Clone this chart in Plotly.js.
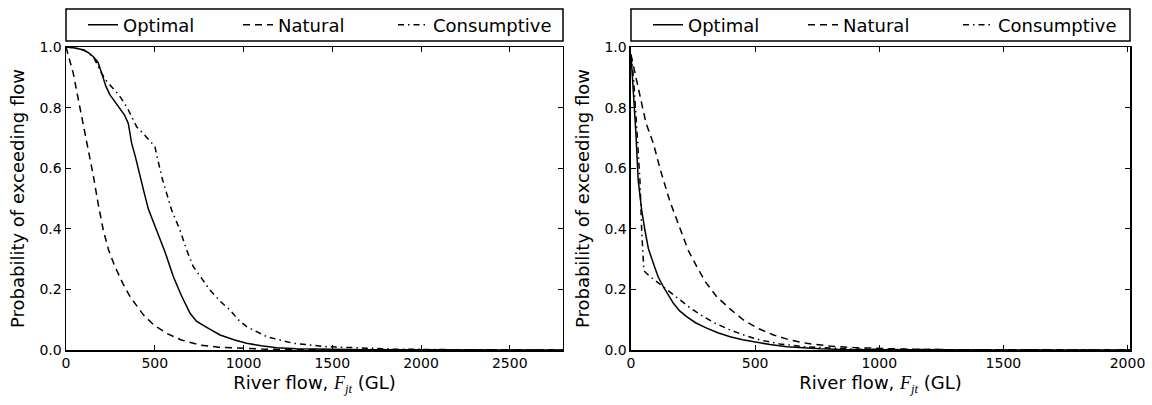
<!DOCTYPE html>
<html><head><meta charset="utf-8">
<script src="https://cdn.plot.ly/plotly-3.0.1.min.js"></script>
<style>html,body{margin:0;padding:0;background:#fff}#chart{width:1152px;height:405px}</style>
</head><body><div id="chart"></div>
<script>
// ---- Left panel data ----
const leftOptimalX = [0, 50, 100, 130, 154, 180, 201, 225, 248, 275, 304, 330, 351, 370, 390, 408, 440, 464, 511, 560, 605, 650, 699, 736, 800, 868, 950, 1018, 1100, 1187, 1300, 1468, 1700, 2000, 2400, 2800];
const leftOptimalP = [1.0, 0.997, 0.99, 0.98, 0.968, 0.95, 0.913, 0.87, 0.842, 0.82, 0.797, 0.775, 0.748, 0.682, 0.64, 0.594, 0.52, 0.465, 0.396, 0.32, 0.242, 0.18, 0.121, 0.094, 0.072, 0.0495, 0.033, 0.022, 0.014, 0.0077, 0.004, 0.002, 0.001, 0.0005, 0.0002, 0];
const leftNaturalX = [0, 20, 41, 60, 79, 100, 117, 135, 154, 182, 210, 240, 276, 320, 361, 400, 436, 500, 567, 650, 755, 860, 982, 1100, 1280, 1600, 2000, 2800];
const leftNaturalP = [1.0, 0.96, 0.913, 0.855, 0.798, 0.74, 0.693, 0.64, 0.575, 0.48, 0.396, 0.33, 0.275, 0.22, 0.176, 0.145, 0.116, 0.08, 0.055, 0.033, 0.0165, 0.009, 0.005, 0.003, 0.001, 0.0005, 0.0002, 0];
const leftConsumptiveX = [0, 50, 100, 154, 201, 225, 248, 300, 342, 370, 398, 450, 501, 511, 540, 567, 595, 642, 680, 717, 760, 811, 870, 924, 970, 1018, 1131, 1281, 1469, 1650, 1845, 2200, 2800];
const leftConsumptiveP = [1.0, 0.997, 0.99, 0.968, 0.913, 0.89, 0.875, 0.84, 0.803, 0.77, 0.737, 0.705, 0.671, 0.644, 0.57, 0.517, 0.462, 0.396, 0.33, 0.275, 0.24, 0.198, 0.16, 0.132, 0.1, 0.077, 0.044, 0.022, 0.011, 0.006, 0.003, 0.001, 0];

// ---- Right panel data ----
const rightOptimalX = [0, 8, 19, 29, 43, 56, 70, 90, 110, 130, 150, 171, 195, 224, 260, 305, 350, 399, 450, 493, 560, 628, 700, 762, 850, 1000, 1200, 1500, 2010];
const rightOptimalP = [0.975, 0.88, 0.726, 0.561, 0.462, 0.396, 0.335, 0.286, 0.24, 0.209, 0.18, 0.154, 0.13, 0.11, 0.09, 0.072, 0.057, 0.044, 0.034, 0.027, 0.018, 0.011, 0.007, 0.004, 0.002, 0.001, 0.0005, 0.0002, 0];
const rightNaturalX = [0, 15, 36, 60, 90, 120, 157, 198, 230, 265, 300, 345, 400, 453, 510, 574, 640, 708, 800, 896, 1000, 1098, 1300, 1600, 2010];
const rightNaturalP = [0.975, 0.92, 0.836, 0.75, 0.682, 0.59, 0.49, 0.396, 0.33, 0.275, 0.225, 0.176, 0.135, 0.099, 0.072, 0.0495, 0.033, 0.022, 0.013, 0.008, 0.005, 0.003, 0.001, 0.0004, 0];
const rightConsumptiveX = [0, 10, 22, 36, 43, 48, 52, 60, 77, 100, 130, 160, 198, 240, 292, 340, 399, 460, 520, 600, 695, 800, 897, 1100, 1400, 2010];
const rightConsumptiveP = [0.975, 0.9, 0.75, 0.561, 0.396, 0.3, 0.262, 0.255, 0.242, 0.228, 0.209, 0.188, 0.165, 0.138, 0.11, 0.088, 0.066, 0.048, 0.033, 0.02, 0.011, 0.006, 0.003, 0.0015, 0.0005, 0];

const seriesNames = ['Optimal', 'Natural', 'Consumptive'];
const leftXTicks = [0, 500, 1000, 1500, 2000, 2500];
const rightXTicks = [0, 500, 1000, 1500, 2000];
const yTicks = [0.0, 0.2, 0.4, 0.6, 0.8, 1.0];

const dashes = ['solid', '7px,5px', '6px,4px,1.5px,4px'];
const entryWidths = [110, 110, 130];
function tr(x, y, i, xa, ya, lg) {
  return {x: x, y: y, type: 'scatter', mode: 'lines', name: seriesNames[i],
    xaxis: xa, yaxis: ya, legend: lg, legendwidth: entryWidths[i],
    line: {color: '#000', width: 1.5, dash: dashes[i]}, hoverinfo: 'skip'};
}
const data = [
  tr(leftOptimalX, leftOptimalP, 0, 'x', 'y', 'legend'),
  tr(leftNaturalX, leftNaturalP, 1, 'x', 'y', 'legend'),
  tr(leftConsumptiveX, leftConsumptiveP, 2, 'x', 'y', 'legend'),
  tr(rightOptimalX, rightOptimalP, 0, 'x2', 'y2', 'legend2'),
  tr(rightNaturalX, rightNaturalP, 1, 'x2', 'y2', 'legend2'),
  tr(rightConsumptiveX, rightConsumptiveP, 2, 'x2', 'y2', 'legend2')
];

const FONT = 'DejaVu Sans, sans-serif';
const serif = 'font-family:\'Liberation Serif\',serif';
const xTitle = 'River flow, <i><span style="' + serif + '">F</span></i><sub><i><span style="' + serif + '">jt</span></i></sub> (GL)';
const axisCommon = {
  showgrid: false, zeroline: false, showline: true, linecolor: '#000', linewidth: 1.5,
  mirror: 'allticks', ticks: 'inside', ticklen: 5, tickwidth: 1, tickcolor: '#000',
  tickfont: {size: 14, color: '#000'}
};
const xAxisBase = Object.assign({}, axisCommon, {title: {text: xTitle, font: {size: 18, color: '#000'}, standoff: 6}});
const yAxisBase = Object.assign({}, axisCommon, {range: [0, 1], tickvals: yTicks, tickformat: '.1f',
  title: {text: 'Probability of exceeding flow', font: {size: 18, color: '#000'}, standoff: 10}});
const legendBase = {orientation: 'h', xref: 'paper', yref: 'paper', xanchor: 'left', yanchor: 'middle', y: 1.0726,
  borderwidth: 0, bgcolor: 'rgba(0,0,0,0)', entrywidth: 110, itemwidth: 30,
  font: {size: 18, color: '#000'}};

// legend frames (paper coordinates)
const legTop = 1.1254, legBottom = 1.0198;
const leftDomain = [0, 0.4671], rightDomain = [0.531, 1];

const layout = {
  width: 1152, height: 405,
  margin: {l: 66, r: 22, t: 47, b: 55, autoexpand: false},
  paper_bgcolor: '#fff', plot_bgcolor: '#fff',
  font: {family: FONT, color: '#000'},
  xaxis: Object.assign({}, xAxisBase, {domain: leftDomain, range: [0, 2800], tickvals: leftXTicks, anchor: 'y'}),
  yaxis: Object.assign({}, yAxisBase, {domain: [0, 1], anchor: 'x'}),
  xaxis2: Object.assign({}, xAxisBase, {domain: rightDomain, range: [0, 2010], tickvals: rightXTicks, anchor: 'y2'}),
  yaxis2: Object.assign({}, yAxisBase, {domain: [0, 1], anchor: 'x2'}),
  legend: Object.assign({}, legendBase, {x: leftDomain[0] + 0.016}),
  legend2: Object.assign({}, legendBase, {x: rightDomain[0] + 0.016}),
  shapes: [
    {type: 'rect', xref: 'paper', yref: 'paper', x0: leftDomain[0], x1: leftDomain[1], y0: legBottom, y1: legTop, line: {color: '#000', width: 1.5}, fillcolor: 'rgba(0,0,0,0)'},
    {type: 'rect', xref: 'paper', yref: 'paper', x0: rightDomain[0], x1: rightDomain[1], y0: legBottom, y1: legTop, line: {color: '#000', width: 1.5}, fillcolor: 'rgba(0,0,0,0)'}
  ],
  showlegend: true
};
Plotly.newPlot('chart', data, layout, {displayModeBar: false, staticPlot: true});
</script>
</body></html>
